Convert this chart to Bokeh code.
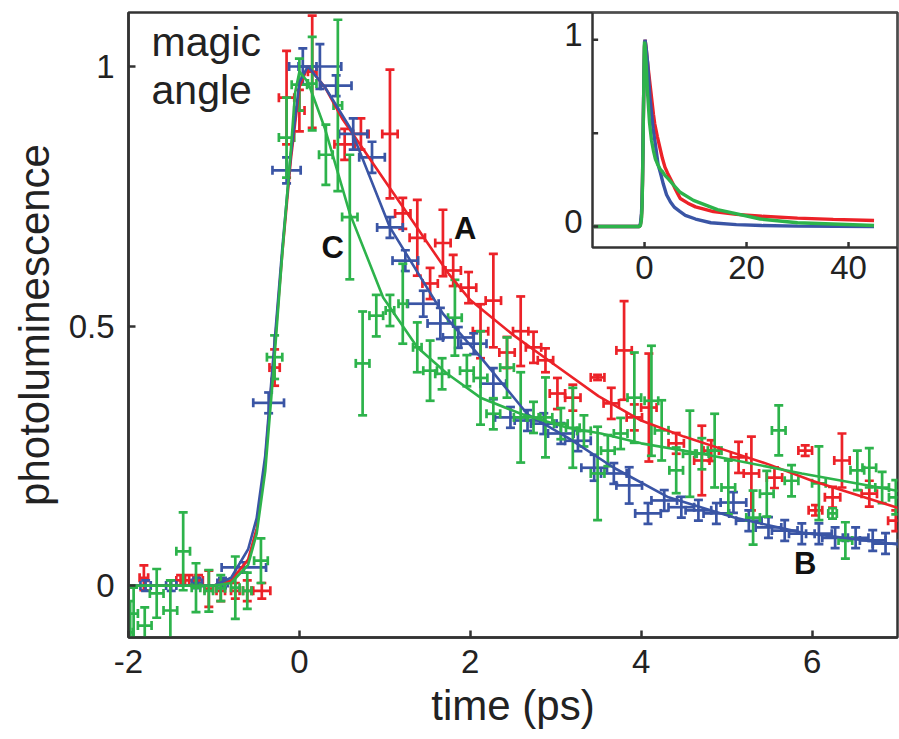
import numpy as np
from bokeh.plotting import figure
from bokeh.models import Range1d, FixedTicker
from bokeh.embed import file_html
from bokeh.resources import INLINE
from bokeh.core.properties import value

# ---------------- data ----------------
# Series A (red): x, y, x-error, y-error
a_x = [-1.82, -1.39, -1.29, -1.18, -1.06, -0.92, -0.75, -0.61, -0.44, -0.29, -0.15, 0.0, 0.15,
       0.53, 0.72, 1.06, 1.21, 1.38, 1.53, 1.68, 1.80, 1.98, 2.12, 2.27, 2.43, 2.59, 2.74, 2.88,
       3.02, 3.20, 3.49, 3.65, 3.80, 3.92, 4.09, 4.41, 4.71, 4.82, 5.14, 5.29, 5.56, 5.92, 6.04,
       6.24, 6.35, 6.67, 6.98]
a_y = [0.015, 0.01, 0.01, 0.01, -0.006, -0.01, -0.01, -0.01, -0.01, 0.42, 0.94, 0.915, 0.99,
       0.85, 0.87, 0.87, 0.717, 0.67, 0.582, 0.66, 0.607, 0.574, 0.49, 0.549, 0.449, 0.49, 0.459, 0.434,
       0.37, 0.362, 0.401, 0.351, 0.453, 0.324, 0.343, 0.274, 0.241, 0.26, 0.247, 0.216, 0.208, 0.26, 0.145,
       0.17, 0.241, 0.177, 0.125]
a_xerr = [0.05, 0.05, 0.05, 0.05, 0.05, 0.05, 0.05, 0.05, 0.10, 0.06, 0.09, 0.06, 0.05,
          0.12, 0.09, 0.09, 0.09, 0.09, 0.09, 0.09, 0.09, 0.09, 0.09, 0.09, 0.09, 0.09, 0.09, 0.09,
          0.09, 0.09, 0.08, 0.09, 0.09, 0.09, 0.09, 0.09, 0.09, 0.09, 0.09, 0.09, 0.09, 0.08, 0.08,
          0.09, 0.09, 0.09, 0.09]
a_yerr = [0.024, 0.01, 0.01, 0.01, 0.035, 0.02, 0.015, 0.02, 0.015, 0.035, 0.09, 0.04, 0.108,
          0.03, 0.03, 0.124, 0.03, 0.073, 0.03, 0.064, 0.03, 0.03, 0.052, 0.09, 0.03, 0.067, 0.03, 0.023,
          0.03, 0.025, 0.005, 0.03, 0.095, 0.025, 0.104, 0.02, 0.067, 0.02, 0.03, 0.071, 0.02, 0.01, 0.01,
          0.02, 0.052, 0.025, 0.02]

# Series B (blue)
b_x = [-1.8, -1.5, -1.2, -0.9, -0.65, -0.36, -0.15, 0.04, 0.24, 0.43, 0.63, 0.85, 1.06, 1.24,
       1.45, 1.65, 1.86, 2.04, 2.27, 2.47, 2.67, 2.86, 3.06, 3.26, 3.45, 3.68, 3.86, 4.08, 4.27,
       4.47, 4.67, 4.88, 5.08, 5.26, 5.49, 5.68, 5.88, 6.08, 6.27, 6.51, 6.71, 6.86]
b_y = [0.0, 0.0, 0.005, 0.005, 0.035, 0.352, 0.80, 1.0, 1.0, 0.963, 0.87, 0.825, 0.69, 0.626,
       0.543, 0.505, 0.478, 0.466, 0.389, 0.324, 0.318, 0.312, 0.293, 0.279, 0.227, 0.216, 0.193, 0.139, 0.164,
       0.151, 0.145, 0.139, 0.16, 0.125, 0.112, 0.106, 0.10, 0.10, 0.092, 0.092, 0.087, 0.081]
b_xerr = [0.06, 0.06, 0.06, 0.06, 0.26, 0.18, 0.165, 0.16, 0.25, 0.18, 0.165, 0.15, 0.15, 0.15,
          0.18, 0.15, 0.18, 0.15, 0.15, 0.18, 0.15, 0.15, 0.15, 0.15, 0.15, 0.15, 0.15, 0.15, 0.15,
          0.15, 0.15, 0.15, 0.15, 0.15, 0.15, 0.15, 0.15, 0.15, 0.15, 0.15, 0.15, 0.15]
b_yerr = [0.01, 0.01, 0.01, 0.01, 0.01, 0.02, 0.025, 0.035, 0.043, 0.02, 0.03, 0.03, 0.02, 0.02,
          0.025, 0.03, 0.02, 0.02, 0.03, 0.02, 0.02, 0.02, 0.02, 0.02, 0.025, 0.02, 0.035, 0.02, 0.02,
          0.02, 0.02, 0.02, 0.02, 0.02, 0.02, 0.02, 0.02, 0.02, 0.02, 0.02, 0.02, 0.02]

# Series C (green)
c_x = [-1.98, -1.94, -1.81, -1.67, -1.51, -1.36, -1.21, -1.06, -0.92, -0.75, -0.61, -0.45, -0.29,
       -0.15, 0.0, 0.15, 0.31, 0.45, 0.59, 0.74, 0.90, 1.06, 1.21, 1.38, 1.53, 1.67, 1.82, 1.96,
       2.12, 2.27, 2.43, 2.59, 2.74, 2.88, 3.06, 3.20, 3.33, 3.49, 3.61, 3.76, 3.92, 4.12, 4.24,
       4.41, 4.57, 4.71, 4.86, 5.02, 5.31, 5.47, 5.61, 5.76, 6.08, 6.24, 6.39, 6.53, 6.67, 6.82, 6.98]
c_y = [-0.09, -0.054, -0.077, -0.015, -0.048, 0.066, -0.004, -0.01, -0.005, -0.004, -0.01, 0.048, 0.44,
       0.863, 0.965, 0.967, 0.83, 0.925, 0.71, 0.428, 0.52, 0.53, 0.543, 0.459, 0.414, 0.408, 0.516, 0.414,
       0.40, 0.331, 0.42, 0.324, 0.324, 0.324, 0.312, 0.304, 0.298, 0.216, 0.26, 0.293, 0.362, 0.356, 0.299,
       0.222, 0.254, 0.254, 0.26, 0.189, 0.131, 0.177, 0.299, 0.202, 0.197, 0.139, 0.087, 0.222, 0.227, 0.189, 0.17]
c_xerr = [0.03, 0.05, 0.08, 0.08, 0.08, 0.08, 0.05, 0.05, 0.05, 0.05, 0.05, 0.08, 0.09,
          0.09, 0.09, 0.05, 0.08, 0.05, 0.09, 0.08, 0.08, 0.05, 0.05, 0.05, 0.08, 0.08, 0.08, 0.08,
          0.08, 0.08, 0.08, 0.08, 0.08, 0.08, 0.08, 0.08, 0.08, 0.08, 0.08, 0.08, 0.08, 0.08, 0.08,
          0.08, 0.08, 0.08, 0.08, 0.08, 0.08, 0.08, 0.08, 0.08, 0.08, 0.05, 0.08, 0.08, 0.08, 0.08, 0.08]
c_yerr = [0.06, 0.05, 0.035, 0.047, 0.058, 0.075, 0.047, 0.04, 0.025, 0.06, 0.035, 0.043, 0.042,
          0.077, 0.05, 0.09, 0.058, 0.165, 0.12, 0.10, 0.04, 0.03, 0.077, 0.048, 0.058, 0.03, 0.073, 0.03,
          0.09, 0.03, 0.058, 0.087, 0.03, 0.077, 0.03, 0.077, 0.03, 0.09, 0.03, 0.03, 0.087, 0.106, 0.058,
          0.044, 0.083, 0.03, 0.071, 0.052, 0.052, 0.044, 0.048, 0.03, 0.071, 0.01, 0.035, 0.038, 0.038, 0.03, 0.033]

fa_x = [-10, -2, -1, -0.8, -0.6, -0.5, -0.4, -0.3, -0.2, -0.1, 0.0, 0.1, 0.3, 0.5, 0.75, 1.0, 1.25, 1.5,
        1.75, 2.0, 2.5, 3.0, 3.5, 4.0, 4.5, 5.0, 5.5, 6.0, 6.5, 7.0, 8.5, 10, 13.5, 18, 23, 30, 37, 45]
fa_y = [0, 0, 0, 0.01, 0.05, 0.11, 0.24, 0.44, 0.64, 0.82, 0.96, 1.0, 0.96, 0.90, 0.84, 0.78, 0.72, 0.66,
        0.60, 0.55, 0.483, 0.424, 0.365, 0.318, 0.287, 0.26, 0.233, 0.202, 0.176, 0.15, 0.125, 0.105, 0.08,
        0.065, 0.055, 0.045, 0.038, 0.032]
fb_x = [-10, -2, -1, -0.8, -0.6, -0.5, -0.4, -0.3, -0.2, -0.1, 0.0, 0.1, 0.3, 0.6, 1.06, 1.68, 2.12, 2.67,
        3.14, 3.68, 4.32, 5.09, 5.88, 6.91, 8, 10, 13, 18, 23, 30, 45]
fb_y = [0, 0, 0, 0.015, 0.07, 0.13, 0.25, 0.45, 0.65, 0.83, 0.97, 1.0, 0.96, 0.88, 0.69, 0.524, 0.44, 0.33,
        0.285, 0.227, 0.17, 0.131, 0.102, 0.081, 0.06, 0.04, 0.02, 0.01, 0.005, 0.002, 0.0]
fc_x = [-10, -2, -1, -0.8, -0.6, -0.5, -0.4, -0.3, -0.2, -0.1, -0.05, 0.0, 0.1, 0.3, 0.59, 0.98, 1.38, 1.73,
        2.12, 2.59, 3.14, 3.53, 4.0, 4.71, 5.88, 6.98, 9.6, 14.3, 22.7, 30, 45]
fc_y = [0, 0, 0, 0.005, 0.04, 0.10, 0.22, 0.42, 0.64, 0.84, 0.95, 0.99, 0.97, 0.88, 0.717, 0.555, 0.459, 0.408,
        0.362, 0.331, 0.304, 0.293, 0.274, 0.254, 0.216, 0.183, 0.14, 0.09, 0.04, 0.02, 0.005]

x_ticks = [-2, 0, 2, 4, 6]
y_ticks = [0, 0.5, 1]
inset_x_ticks = [0, 20, 40]
inset_y_ticks = [0, 0.5, 1]
inset_x_labels = ["0", "20", "40"]
inset_y_label_vals = [1, 0]
inset_y_labels = ["1", "0"]

RED, BLUE, GREEN = "#ec2228", "#3a55a5", "#2db34b"
AX = "#333333"
FONT = "Liberation Sans"

# ---------------- figure ----------------
p = figure(width=899, height=739, x_range=Range1d(-2, 7), y_range=Range1d(-0.1, 1.104),
           output_backend="svg", toolbar_location=None,
           min_border_left=128, min_border_right=2, min_border_top=12, min_border_bottom=102)
p.background_fill_color = "white"
p.border_fill_color = "white"
p.grid.visible = False
p.outline_line_color = AX
p.outline_line_width = 2.5

for ax in (p.xaxis[0], p.yaxis[0]):
    ax.axis_line_color = AX
    ax.axis_line_width = 2.5
    ax.major_tick_line_color = AX
    ax.major_tick_line_width = 2.5
    ax.major_tick_in = 7
    ax.major_tick_out = 0
    ax.minor_tick_line_color = None
    ax.major_label_text_font = FONT
    ax.major_label_text_font_size = "33px"
    ax.major_label_text_color = "#222222"
    ax.axis_label_text_font = FONT
    ax.axis_label_text_font_size = "42px"
    ax.axis_label_text_font_style = "normal"
    ax.axis_label_text_color = "#222222"

p.xaxis.ticker = FixedTicker(ticks=x_ticks)
p.yaxis.ticker = FixedTicker(ticks=y_ticks)
p.xaxis.major_label_overrides = {t: str(t) for t in x_ticks}
p.yaxis.major_label_overrides = {0: "0", 0.5: "0.5", 1: "1"}
p.xaxis.axis_label = "time (ps)"
p.yaxis.axis_label = "photoluminescence"
p.xaxis.major_label_standoff = 12
p.xaxis.axis_label_standoff = 6
p.yaxis.major_label_standoff = 14
p.yaxis.axis_label_standoff = 8

CAP = 9
LW = 2.7


def err_series(xs, ys, xe, ye, color):
    x = np.array(xs, dtype=float)
    y = np.array(ys, dtype=float)
    xe = np.array(xe, dtype=float)
    ye = np.array(ye, dtype=float)
    p.segment(x0=x, y0=y - ye, x1=x, y1=y + ye, line_color=color, line_width=LW)
    p.segment(x0=x - xe, y0=y, x1=x + xe, y1=y, line_color=color, line_width=LW)
    p.scatter(np.concatenate([x, x]), np.concatenate([y - ye, y + ye]), marker="dash", size=CAP,
              line_color=color, line_width=LW, angle=0)
    p.scatter(np.concatenate([x - xe, x + xe]), np.concatenate([y, y]), marker="dash", size=CAP,
              line_color=color, line_width=LW, angle=np.pi / 2)


err_series(a_x, a_y, a_xerr, a_yerr, RED)
err_series(b_x, b_y, b_xerr, b_yerr, BLUE)
err_series(c_x, c_y, c_xerr, c_yerr, GREEN)

p.line(fa_x, fa_y, line_color=RED, line_width=2.6)
p.line(fb_x, fb_y, line_color=BLUE, line_width=2.6)
p.line(fc_x, fc_y, line_color=GREEN, line_width=2.6)

# ---------------- inset (own ranges spanning the main frame) ----------------
IX0, IX1 = -10.2, 49.6      # inset frame x-limits
IY0, IY1 = -0.1125, 1.146   # inset frame y-limits
p.extra_x_ranges = {"ix": Range1d(-101.18, IX1)}
p.extra_y_ranges = {"iy": Range1d(-2.201, IY1)}
ik = dict(x_range_name="ix", y_range_name="iy")

p.quad(left=[IX0], right=[IX1], bottom=[IY0], top=[IY1], fill_color="white",
       line_color=AX, line_width=2.5, **ik)
p.line(fa_x, fa_y, line_color=RED, line_width=3.4, **ik)
p.line(fb_x, fb_y, line_color=BLUE, line_width=3.4, **ik)
p.line(fc_x, fc_y, line_color=GREEN, line_width=3.4, **ik)

itx = np.array(inset_x_ticks, dtype=float)
ity = np.array(inset_y_ticks, dtype=float)
p.segment(x0=itx, y0=[IY0] * len(itx), x1=itx, y1=[IY0 + 0.03] * len(itx),
          line_color=AX, line_width=2.5, **ik)
p.segment(x0=[IX0] * len(ity), y0=ity, x1=[IX0 + 1.1] * len(ity), y1=ity,
          line_color=AX, line_width=2.5, **ik)
p.text(x=itx, y=[IY0] * len(itx), text=inset_x_labels, text_align="center", text_baseline="top",
       y_offset=8, text_font=value(FONT), text_font_size="33px", text_color="#222222", **ik)
p.text(x=[IX0] * len(inset_y_labels), y=inset_y_label_vals, text=inset_y_labels, text_align="right",
       text_baseline="middle", x_offset=-10, y_offset=-5, text_font=value(FONT), text_font_size="33px",
       text_color="#222222", **ik)

# ---------------- annotations ----------------
p.text(x=[-1.73], y=[1.092], text=["magic\nangle"], text_align="left", text_baseline="top",
       text_font=value(FONT), text_font_size="41px", text_color="#222222", text_line_height=1.05)
p.text(x=[1.94, 5.92, 0.39], y=[0.688, 0.042, 0.651], text=["A", "B", "C"], text_align="center",
       text_baseline="middle", text_font=value(FONT), text_font_size="31px", text_font_style="bold",
       text_color="#111111")

open("out.html", "w").write(file_html(p, INLINE))
